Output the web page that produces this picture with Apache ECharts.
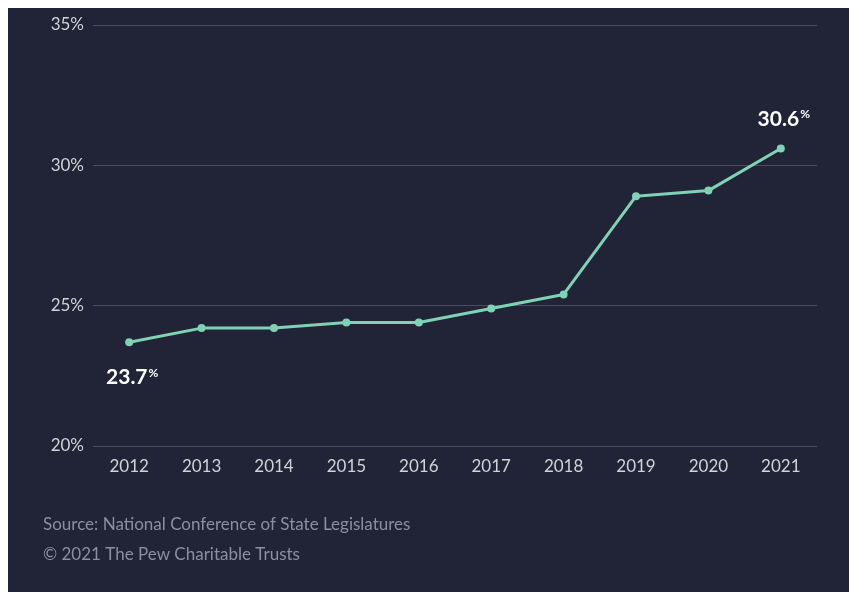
<!DOCTYPE html>
<html>
<head>
<meta charset="utf-8">
<script src="https://cdn.jsdelivr.net/npm/echarts@6/dist/echarts.min.js"></script>
<style>
  html, body { margin: 0; padding: 0; background: #ffffff; }
  #chart { position: absolute; left: 8px; top: 8px; width: 841px; height: 584px; }
</style>
</head>
<body>
<div id="chart"></div>
<script>
// Share of state legislators who are women, 2012–2021
const years = ['2012', '2013', '2014', '2015', '2016', '2017', '2018', '2019', '2020', '2021'];
const shares = [23.7, 24.2, 24.2, 24.4, 24.4, 24.9, 25.4, 28.9, 29.1, 30.6];
const yTicks = [20, 25, 30, 35];
const sourceLine = 'Source: National Conference of State Legislatures';
const creditLine = '\u00A9 2021 The Pew Charitable Trusts';

const bg = '#212336';
const lineColor = '#7fd2b5';
const font = 'Lato, "Open Sans", sans-serif';

const lastIdx = shares.length - 1;
const seriesData = shares.map((v, i) => {
  const item = { value: v };
  if (i === 0 || i === lastIdx) {
    item.label = {
      show: true,
      position: i === 0 ? 'bottom' : 'top',
      distance: i === 0 ? 21 : 15,
      offset: [3, 0],
      formatter: (p) => '{a|' + p.value.toFixed(1) + '}{b|%}',
      rich: {
        a: { color: '#ffffff', fontSize: 21, fontWeight: 'bold', fontFamily: font },
        b: { color: '#ffffff', fontSize: 12, fontWeight: 'bold', fontFamily: font, verticalAlign: 'top', padding: [0, 0, 9, 1] }
      }
    };
  }
  return item;
});

const chart = echarts.init(document.getElementById('chart'));
chart.setOption({
  backgroundColor: bg,
  animation: false,
  grid: { left: 85, right: 32, top: 17, bottom: 146 },
  xAxis: {
    type: 'category',
    data: years,
    boundaryGap: true,
    axisLine: { show: false },
    axisTick: { show: false },
    axisLabel: { color: '#d2d3da', fontSize: 17, fontFamily: font, margin: 12 }
  },
  yAxis: {
    type: 'value',
    min: yTicks[0],
    max: yTicks[yTicks.length - 1],
    interval: 5,
    axisLine: { show: false },
    axisTick: { show: false },
    splitLine: { lineStyle: { color: '#4b4d5f', width: 1 } },
    axisLabel: { color: '#d2d3da', fontSize: 17, fontFamily: font, margin: 9, formatter: '{value}%' }
  },
  series: [{
    type: 'line',
    data: seriesData,
    symbol: 'circle',
    symbolSize: 8,
    lineStyle: { color: lineColor, width: 3 },
    itemStyle: { color: lineColor },
    label: { show: false }
  }],
  graphic: [
    { type: 'text', left: 35, top: 508, style: { text: sourceLine, fill: '#8d8f9e', fontSize: 17, fontFamily: font } },
    { type: 'text', left: 35, top: 538, style: { text: creditLine, fill: '#8d8f9e', fontSize: 17, fontFamily: font } }
  ]
});
</script>
</body>
</html>
